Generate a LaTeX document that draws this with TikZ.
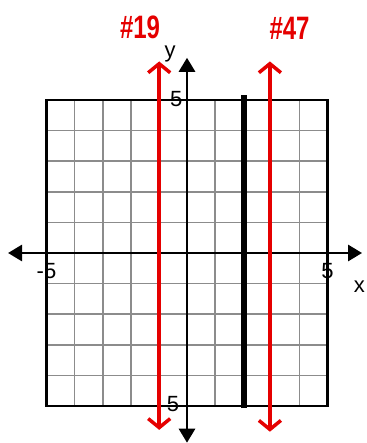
\documentclass[tikz,border=0pt]{standalone}
\usepackage{fontspec}
\setmainfont{Liberation Sans}
\usetikzlibrary{arrows.meta}
\begin{document}
\begin{tikzpicture}[x=28.1pt,y=30.6pt,
  gridline/.style={draw=black!45, line width=1.6pt},
  frame/.style={draw=black, line width=2.4pt},
  axis/.style={draw=black, line width=2.8pt, {Triangle[length=14pt,width=16pt]}-{Triangle[length=14pt,width=16pt]}},
  redline/.style={draw=red!90!black, line width=3.5pt,
    {Straight Barb[length=9pt,width=22pt,line width=3.5pt]}-{Straight Barb[length=9pt,width=22pt,line width=3.5pt]}},
  ticklabel/.style={font=\fontsize{22}{22}\selectfont, inner sep=0pt},
  redlabel/.style={font=\bfseries\fontsize{24}{24}\selectfont, text=red!90!black, inner sep=0pt, yscale=1.35}
]
\useasboundingbox (-6.655,-6.209) rectangle (6.370,8.268);
\fill[white] (-6.655,-6.209) rectangle (6.370,8.268);
% grid
\draw[gridline, step={(1,1)}] (-5,-5) grid (5,5);
\draw[frame] (-5,-5) rectangle (5,5);
% axes
\coordinate (xl) at (-6.37,0);
\coordinate (xr) at (6.23,0);
\coordinate (yt) at (0,6.38);
\coordinate (yb) at (0,-6.2);
\draw[axis] (xl) -- (xr);
\draw[axis] (yb) -- (yt);
% thick black line x=2
\coordinate (bt) at (2.03,5.16);
\coordinate (bb) at (2.03,-5.07);
\draw[line width=6.5pt] (bb) -- (bt);
% red lines
\coordinate (r1t) at (-0.99,6.26);
\coordinate (r1b) at (-0.99,-5.78);
\coordinate (r2t) at (2.95,6.26);
\coordinate (r2b) at (2.95,-5.84);
\draw[redline] (r1b) -- (r1t);
\draw[redline] (r2b) -- (r2t);
% labels
\node[ticklabel] (ylab) at (-0.6,6.5) {y};
\node[ticklabel] (xlab) at (6.13,-1.1) {x};
\node[ticklabel] (t5) at (-0.38,5.03) {5};
\node[ticklabel] (bm5) at (-0.5,-4.92) {5};
\node[ticklabel] (lm5) at (-5.0,-0.58) {-5};
\node[ticklabel] (r5) at (5.0,-0.58) {5};
\node[redlabel] (n19) at (-1.67,7.39) {\#19};
\node[redlabel] (n47) at (3.65,7.35) {\#47};
\end{tikzpicture}
\end{document}
